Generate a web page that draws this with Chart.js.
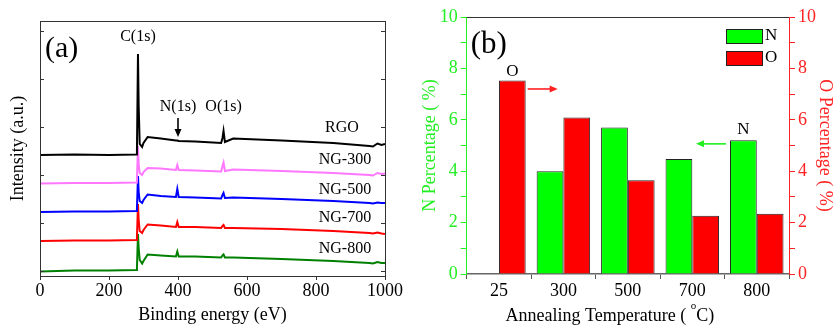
<!DOCTYPE html>
<html>
<head>
<meta charset="utf-8">
<script src="https://cdn.jsdelivr.net/npm/chart.js@4.4.1/dist/chart.umd.min.js"></script>
<style>
  html,body{margin:0;padding:0;background:#fff;}
  #wrap{position:relative;width:834px;height:326px;}
  #cA{position:absolute;left:0;top:0;}
  #cB{position:absolute;left:420px;top:0;}
</style>
</head>
<body>
<div id="wrap">
  <canvas id="cA" width="420" height="326"></canvas>
  <canvas id="cB" width="414" height="326"></canvas>
</div>
<script>
/* ---------- panel (a): XPS survey spectra ---------- */
const energy = [0, 100, 200, 279, 281, 284, 286, 289, 296, 300, 312, 350, 394, 398, 402, 450, 525, 529, 532, 536, 560, 700, 850, 955, 965, 978, 990, 1000];
const rgo   = [121, 121.5, 121, 121.5, 124, 222, 170, 132, 129, 133, 139, 137.5, 135.5, 135.5, 135, 134.5, 133, 138, 145, 134, 137.5, 135.5, 133, 130, 129.5, 132.5, 131, 132];
const ng300 = [92.5, 93, 93, 93.5, 96, 130, 112, 103, 101, 104, 108, 107.5, 106, 111, 106, 105.5, 104.5, 110, 113.5, 105, 106.5, 105, 103, 101, 100.5, 103, 102, 102.5];
const ng500 = [64, 64.5, 64.5, 65, 67, 100, 84, 75, 73, 76, 81.5, 80, 79, 87, 79, 78.5, 77.5, 81, 83, 78, 78.5, 77, 75, 73, 72.5, 73.5, 73, 73];
const ng700 = [35, 35.5, 35.5, 36, 38, 72, 56, 45, 43, 46, 51.5, 50.5, 49, 54, 49, 49, 48, 50, 51, 48, 48, 47, 45, 43, 42.5, 43.5, 42.5, 42];
const ng800 = [4.5, 5.5, 5.5, 6, 8, 42, 28, 16, 12.5, 15, 21.5, 20.5, 19.5, 24.5, 19.5, 19.5, 18.5, 20.5, 21.5, 18.5, 18.5, 17, 15, 13, 12.5, 14, 13, 13];
const spectraNames  = ['RGO', 'NG-300', 'NG-500', 'NG-700', 'NG-800'];
const spectraValues = [rgo, ng300, ng500, ng700, ng800];
const spectraColors = ['#000000', '#ff77ff', '#0000ff', '#ff0000', '#008000'];
const intensityTicks = [5, 53, 101, 149, 197, 245];

/* ---------- panel (b): N / O content ---------- */
const temps = ['25', '300', '500', '700', '800'];
const nPct  = [null, 4.0, 5.7, 4.47, 5.2];
const oPct  = [7.53, 6.09, 3.65, 2.27, 2.34];

const serif = '"Liberation Serif", "DejaVu Serif", serif';
const GREEN = '#22ee22', RED = '#ff2222';
const tickFont = {family: serif, size: 18};
Chart.defaults.font.family = serif;
Chart.defaults.color = '#000';

function arrow(ctx, x1, y1, x2, y2, color) {
  const ang = Math.atan2(y2 - y1, x2 - x1), h = 8, hw = 3.5;
  const c = Math.cos(ang), s = Math.sin(ang);
  ctx.strokeStyle = color; ctx.fillStyle = color; ctx.lineWidth = 1.6;
  ctx.beginPath(); ctx.moveTo(x1, y1); ctx.lineTo(x2 - h * 0.7 * c, y2 - h * 0.7 * s); ctx.stroke();
  ctx.beginPath();
  ctx.moveTo(x2, y2);
  ctx.lineTo(x2 - h * c + hw * s, y2 - h * s - hw * c);
  ctx.lineTo(x2 - h * c - hw * s, y2 - h * s + hw * c);
  ctx.closePath(); ctx.fill();
}

// frame, inward ticks and text for panel (a)
const decorA = {
  id: 'decorA',
  afterDatasetsDraw(chart) {
    const {ctx, chartArea: a, scales: {x, y}} = chart;
    ctx.save();
    ctx.strokeStyle = '#333'; ctx.lineWidth = 1;
    ctx.strokeRect(a.left + 0.5, a.top + 0.5, a.right - a.left, a.bottom - a.top);
    ctx.beginPath();
    intensityTicks.forEach(v => {
      const py = Math.round(y.getPixelForValue(v)) + 0.5;
      ctx.moveTo(a.left, py); ctx.lineTo(a.left + 4, py);
      ctx.moveTo(a.right, py); ctx.lineTo(a.right - 4, py);
    });
    ctx.stroke();

    ctx.fillStyle = '#000';
    ctx.textAlign = 'center'; ctx.textBaseline = 'middle';
    ctx.font = '16px ' + serif;
    ctx.fillText('C(1s)', x.getPixelForValue(284), y.getPixelForValue(239));
    ctx.fillText('N(1s)', x.getPixelForValue(400), y.getPixelForValue(169));
    ctx.fillText('O(1s)', x.getPixelForValue(532), y.getPixelForValue(169));
    arrow(ctx, x.getPixelForValue(400), y.getPixelForValue(158), x.getPixelForValue(400), y.getPixelForValue(139), '#000');

    const labelAt = [[875, 148], [884, 116], [884, 86], [884, 58], [884, 27]];
    ctx.fillStyle = '#000';
    spectraNames.forEach((n, i) => {
      ctx.fillText(n, x.getPixelForValue(labelAt[i][0]), y.getPixelForValue(labelAt[i][1]));
    });

    ctx.textAlign = 'left';
    ctx.font = '30px ' + serif;
    ctx.fillText('(a)', a.left + 5, a.top + 28);
    ctx.restore();
  }
};

new Chart(document.getElementById('cA'), {
  type: 'line',
  data: {
    datasets: spectraNames.map((n, i) => ({
      label: n,
      data: energy.map((e, k) => ({x: e, y: spectraValues[i][k]})),
      borderColor: spectraColors[i],
      borderWidth: 2,
      pointRadius: 0,
      tension: 0
    }))
  },
  options: {
    responsive: false, animation: false, devicePixelRatio: 1,
    layout: {padding: {left: 0, right: 35, top: 21, bottom: 0}},
    plugins: {legend: {display: false}, tooltip: {enabled: false}},
    scales: {
      x: {
        type: 'linear', min: 0, max: 1000,
        ticks: {stepSize: 100, font: tickFont, padding: 0, maxRotation: 0,
                callback: v => (v % 200 ? '' : v)},
        grid: {drawOnChartArea: false, tickLength: 4, color: '#333'},
        border: {color: '#333'},
        title: {display: true, text: 'Binding energy (eV)', font: {family: serif, size: 18}, padding: {top: 0, bottom: 0}},
        afterFit(s) { s.height = 50; }
      },
      y: {
        min: 0, max: 255,
        ticks: {display: false},
        grid: {display: false},
        border: {color: '#333'},
        title: {display: true, text: 'Intensity (a.u.)', font: {family: serif, size: 18}, padding: {top: 7, bottom: 0}},
        afterFit(s) { s.width = 40; }
      }
    }
  },
  plugins: [decorA]
});

// legend, labels, arrows and x title for panel (b)
const decorB = {
  id: 'decorB',
  afterDatasetsDraw(chart) {
    const {ctx, chartArea: a} = chart;
    ctx.save();
    ctx.strokeStyle = '#333'; ctx.lineWidth = 1;
    ctx.beginPath(); ctx.moveTo(a.left, a.top + 0.5); ctx.lineTo(a.right, a.top + 0.5); ctx.stroke();

    // legend boxes
    chart.data.datasets.forEach((ds, i) => {
      const top = a.top + 12 + i * 22;
      ctx.fillStyle = ds.backgroundColor;
      ctx.fillRect(a.right - 63, top, 36, 14);
      ctx.strokeStyle = '#222';
      ctx.strokeRect(a.right - 63 + 0.5, top + 0.5, 36, 14);
      ctx.fillStyle = '#000';
      ctx.font = '17px ' + serif;
      ctx.textAlign = 'left'; ctx.textBaseline = 'middle';
      ctx.fillText(ds.label, a.right - 24, top + 7);
    });

    ctx.font = '31px ' + serif;
    ctx.textAlign = 'left'; ctx.textBaseline = 'middle';
    ctx.fillStyle = '#000';
    ctx.fillText('(b)', a.left + 4, a.top + 28);

    const oBar = chart.getDatasetMeta(1).data[0];
    const nBar = chart.getDatasetMeta(0).data[4];
    ctx.font = '17px ' + serif; ctx.textAlign = 'center';
    ctx.fillText('O', oBar.x, oBar.y - 9);
    ctx.fillText('N', nBar.x, nBar.y - 11);
    arrow(ctx, oBar.x + oBar.width / 2 + 2, oBar.y + 8.5, oBar.x + oBar.width / 2 + 32, oBar.y + 8.5, '#ff2020');
    arrow(ctx, nBar.x - nBar.width / 2 - 4, nBar.y + 3.5, nBar.x - nBar.width / 2 - 34, nBar.y + 3.5, '#22ee22');

    // x title with superscript degree
    const t1 = 'Annealing Temperature ( ', t2 = 'o', t3 = 'C)';
    ctx.fillStyle = '#000';
    ctx.textAlign = 'left'; ctx.textBaseline = 'alphabetic';
    ctx.font = '18px ' + serif;
    const w1 = ctx.measureText(t1).width, w3 = ctx.measureText(t3).width;
    ctx.font = '11px ' + serif;
    const w2 = ctx.measureText(t2).width;
    const cx = (a.left + a.right) / 2 - 18;
    const sx = cx - (w1 + w2 + w3) / 2;
    ctx.font = '18px ' + serif;
    ctx.fillText(t1, sx, 321);
    ctx.font = '11px ' + serif;
    ctx.fillText(t2, sx + w1, 309);
    ctx.font = '18px ' + serif;
    ctx.fillText(t3, sx + w1 + w2, 321);
    ctx.restore();
  }
};

new Chart(document.getElementById('cB'), {
  type: 'bar',
  data: {
    labels: temps,
    datasets: [
      {label: 'N', data: nPct, yAxisID: 'yN', backgroundColor: '#00ff00', borderColor: '#222', borderWidth: 1},
      {label: 'O', data: oPct, yAxisID: 'yO', backgroundColor: '#ff0000', borderColor: '#222', borderWidth: 1}
    ]
  },
  options: {
    responsive: false, animation: false, devicePixelRatio: 1,
    layout: {padding: {left: 0, right: 0, top: 17, bottom: 0}},
    datasets: {bar: {categoryPercentage: 0.83, barPercentage: 1}},
    plugins: {legend: {display: false}, tooltip: {enabled: false}},
    scales: {
      x: {
        ticks: {font: tickFont, padding: 1, color: '#000'},
        grid: {drawOnChartArea: false, tickLength: 5, color: '#555', offset: true},
        border: {color: '#666', width: 1.5},
        afterFit(s) { s.height = 52; }
      },
      yN: {
        position: 'left', min: 0, max: 10,
        ticks: {stepSize: 1, color: GREEN, font: tickFont, padding: 3, callback: v => (v % 2 ? '' : v)},
        grid: {drawOnChartArea: false, tickLength: 6, color: GREEN},
        border: {color: GREEN},
        title: {display: true, text: 'N Percentage ( %)', color: GREEN, font: {family: serif, size: 18, lineHeight: 1}, padding: {top: 1, bottom: 0}},
        afterFit(s) { s.width = 46.7; }
      },
      yO: {
        position: 'right', min: 0, max: 10,
        ticks: {stepSize: 1, color: RED, font: tickFont, padding: 3, callback: v => (v % 2 ? '' : v)},
        grid: {drawOnChartArea: false, tickLength: 6, color: RED},
        border: {color: RED},
        title: {display: true, text: 'O Percentage ( %)', color: RED, font: {family: serif, size: 18, lineHeight: 1}, padding: {top: 0, bottom: 0}},
        afterFit(s) { s.width = 45; }
      }
    }
  },
  plugins: [decorB]
});
</script>
</body>
</html>
